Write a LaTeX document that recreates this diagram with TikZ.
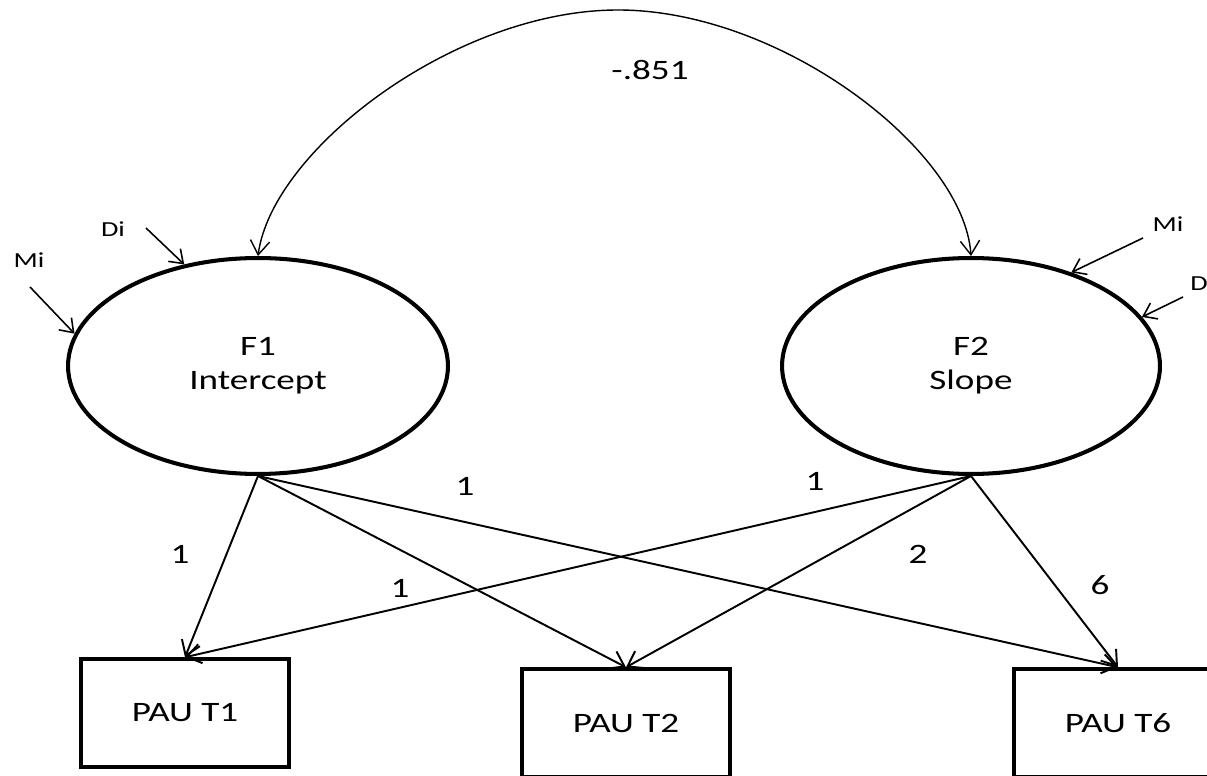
\documentclass[tikz,border=0pt]{standalone}
\usepackage{fontspec}
\setmainfont{Carlito}[FakeStretch=1.32]
\usetikzlibrary{arrows.meta,shapes.geometric}
\begin{document}
\begin{tikzpicture}[x=0.02cm,y=-0.02cm,
  bigtext/.style={font=\fontsize{16}{19.5}\selectfont},
  smalltext/.style={font=\fontsize{12.2}{14}\selectfont,inner sep=0pt},
  latent/.style={ellipse,draw,line width=2.3pt,minimum width=7.6cm,
    minimum height=4.32cm,inner sep=0pt,align=center,bigtext},
  observed/.style={rectangle,draw,line width=2pt,minimum width=4.16cm,
    minimum height=2.16cm,bigtext},
  weight/.style={bigtext,inner sep=0pt},
  loading/.style={line width=1.1pt,-{Straight Barb[length=8pt,width=11pt]}},
  errarrow/.style={line width=0.9pt,-{Straight Barb[length=7pt,width=10pt]}},
  covarc/.style={line width=0.8pt,-{Straight Barb[length=8pt,width=11pt]}},
]
\useasboundingbox (0,0) rectangle (1207,776);

% latent growth factors
\node[latent] (F1) at (258,366) {F1\\Intercept};
\node[latent,minimum width=7.56cm] (F2) at (971,366) {F2\\Slope};

% observed measures
\node[observed] (T1) at (185,713) {PAU T1};
\node[observed] (T2) at (626,723) {PAU T2};
\node[observed] (T6) at (1118,723) {PAU T6};

% factor covariance
\coordinate (apex) at (618,10);
\draw[covarc] (apex) .. controls (455,10) and (272,150) .. (F1.north);
\draw[covarc] (apex) .. controls (781,10) and (964,150) .. (F2.north);
\node[weight] (cov) at (650,70) {-.851};

% factor loadings
\draw[loading] (F1.south) -- (T1.north);
\draw[loading] (F1.south) -- (T2.north);
\draw[loading] (F1.south) -- (T6.north);
\draw[loading] (F2.south) -- (T1.north);
\draw[loading] (F2.south) -- (T2.north);
\draw[loading] (F2.south) -- (T6.north);

\node[weight] (w11) at (180,554) {1};
\node[weight] (w21) at (400,588) {1};
\node[weight] (w16) at (465,486) {1};
\node[weight] (w12) at (815,481) {1};
\node[weight] (w22) at (918,554) {2};
\node[weight] (w26) at (1100,585) {6};

% residual terms
\coordinate (miLs) at (30,287);
\coordinate (diLs) at (146,228);
\coordinate (miRs) at (1143,238);
\coordinate (dRs) at (1183,297);
\draw[errarrow] (miLs) -- (F1.170);
\draw[errarrow] (diLs) -- (F1.126);
\draw[errarrow] (miRs) -- (F2.43.5);
\draw[errarrow] (dRs) -- (F2.16.7);

\node[smalltext] (miL) at (29,260) {Mi};
\node[smalltext] (diL) at (113,229) {Di};
\node[smalltext] (miR) at (1168,224) {Mi};
\node[smalltext,anchor=west] (dR) at (1190,284) {D};
\end{tikzpicture}
\end{document}
